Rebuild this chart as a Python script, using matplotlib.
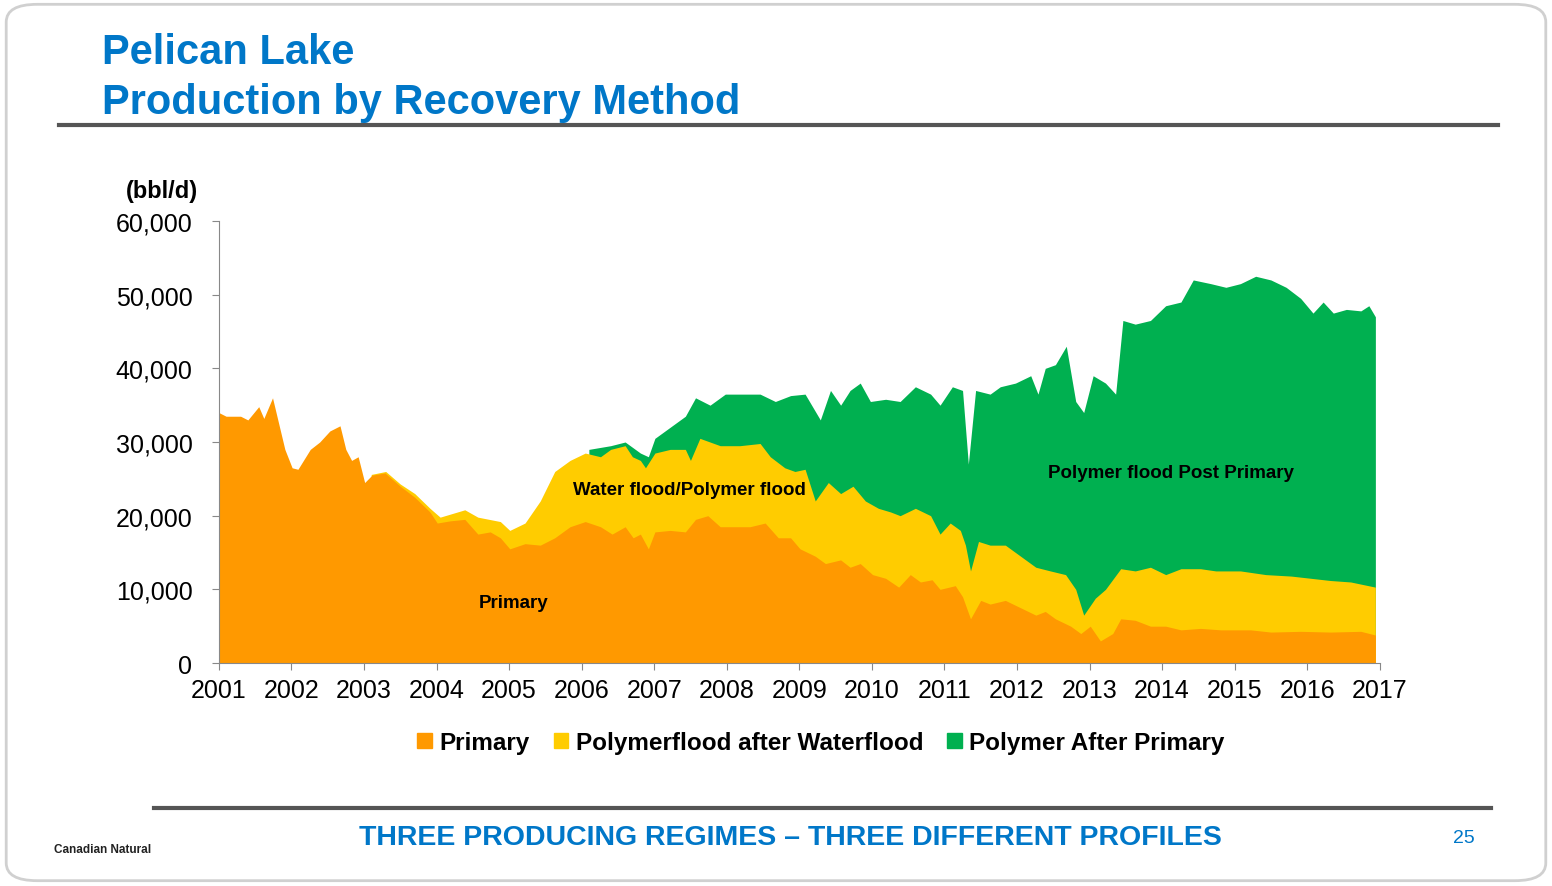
import matplotlib
matplotlib.use("Agg")
import matplotlib.pyplot as plt
from matplotlib.patches import FancyBboxPatch, Rectangle
from matplotlib.lines import Line2D

plt.rcParams['font.family'] = ['Liberation Sans', 'DejaVu Sans']

# Primary (top of orange)
prim_x = [2001.0,2001.1,2001.3,2001.4,2001.55,2001.62,2001.74,2001.91,2002.01,2002.09,2002.26,2002.39,2002.53,2002.67,2002.75,2002.83,2002.92,2003.01,2003.11,2003.29,2003.5,2003.7,2003.91,2004.01,2004.19,2004.39,2004.57,2004.74,2004.88,2005.01,2005.22,2005.43,2005.63,2005.84,2006.05,2006.26,2006.42,2006.6,2006.71,2006.81,2006.92,2007.01,2007.22,2007.43,2007.57,2007.74,2007.91,2008.12,2008.32,2008.53,2008.71,2008.88,2009.01,2009.22,2009.36,2009.57,2009.7,2009.84,2010.01,2010.19,2010.37,2010.53,2010.67,2010.83,2010.94,2011.15,2011.25,2011.36,2011.5,2011.63,2011.84,2012.05,2012.26,2012.39,2012.53,2012.74,2012.88,2013.01,2013.15,2013.32,2013.43,2013.63,2013.84,2014.05,2014.26,2014.53,2014.81,2015.22,2015.5,2015.91,2016.32,2016.74,2016.94]
prim_y = [34000,33500,33500,33000,34800,33200,36000,29000,26500,26300,29000,30000,31500,32200,29000,27500,28000,24500,25500,25800,24000,22500,20500,19000,19300,19500,17500,17800,17000,15500,16200,16000,17000,18500,19200,18500,17500,18500,17000,17500,15500,17800,18000,17800,19500,20000,18500,18500,18500,19000,17000,17000,15500,14500,13500,14000,13000,13500,12000,11500,10300,12000,11000,11300,10000,10500,9000,6000,8500,8000,8500,7500,6500,7000,6000,5000,4000,5000,3000,4000,6000,5800,5000,5000,4500,4700,4500,4500,4200,4300,4200,4300,3800]

# Primary + Polymerflood after Waterflood (top of yellow)
wf_x = [2003.1,2003.3,2003.5,2003.7,2003.91,2004.05,2004.39,2004.57,2004.88,2005.01,2005.22,2005.43,2005.63,2005.84,2006.05,2006.26,2006.4,2006.6,2006.7,2006.81,2006.88,2007.01,2007.22,2007.43,2007.5,2007.63,2007.91,2008.18,2008.46,2008.6,2008.8,2008.94,2009.08,2009.22,2009.4,2009.57,2009.74,2009.91,2010.09,2010.26,2010.39,2010.6,2010.81,2010.94,2011.08,2011.22,2011.29,2011.36,2011.47,2011.63,2011.84,2012.05,2012.26,2012.46,2012.67,2012.81,2012.92,2013.08,2013.22,2013.43,2013.63,2013.84,2014.05,2014.26,2014.53,2014.74,2015.08,2015.43,2015.78,2016.05,2016.32,2016.6,2016.94]
wf_y = [25600,26000,24300,23000,21000,19800,20800,19800,19200,18000,19000,22000,26000,27500,28500,28000,29000,29500,28000,27500,26500,28500,29000,29000,27500,30500,29500,29500,29800,28000,26500,26000,26300,22000,24500,23000,24000,22000,21000,20500,20000,21000,20000,17500,19000,18000,16000,12500,16500,16000,16000,14500,13000,12500,12000,10000,6500,8800,10000,12800,12500,13000,12000,12800,12800,12500,12500,12000,11800,11500,11200,11000,10300]

# Total incl. Polymer After Primary (top of green)
pp_x = [2006.1,2006.4,2006.6,2006.81,2006.92,2007.01,2007.22,2007.43,2007.57,2007.77,2007.98,2008.26,2008.46,2008.67,2008.88,2009.08,2009.29,2009.43,2009.57,2009.7,2009.84,2009.98,2010.19,2010.39,2010.6,2010.81,2010.94,2011.11,2011.25,2011.33,2011.43,2011.63,2011.77,2011.98,2012.19,2012.29,2012.39,2012.53,2012.68,2012.81,2012.92,2013.05,2013.22,2013.36,2013.46,2013.63,2013.84,2014.05,2014.26,2014.43,2014.67,2014.88,2015.08,2015.29,2015.5,2015.71,2015.91,2016.08,2016.22,2016.36,2016.54,2016.74,2016.85,2016.94]
pp_y = [29000,29500,30000,28500,28000,30500,32000,33500,36000,35000,36500,36500,36500,35500,36300,36500,33000,37000,35000,37000,38000,35500,35800,35500,37500,36500,35000,37500,37000,27000,37000,36500,37500,38000,39000,36500,40000,40500,43000,35500,34000,39000,38000,36500,46500,46000,46500,48500,49000,52000,51500,51000,51500,52500,52000,51000,49500,47500,49000,47500,48000,47800,48500,47000]

C_OR, C_YE, C_GR = "#FF9900", "#FFCC00", "#00B050"
BLUE = "#0077C8"

fig = plt.figure(figsize=(15.52, 8.87), dpi=100)
fig.patches.append(FancyBboxPatch((0.004, 0.006), 0.992, 0.988, boxstyle="round,pad=0,rounding_size=0.02",
                                  transform=fig.transFigure, fill=False, ec="#D0D0D0", lw=2))
fig.text(0.066, 0.94, "Pelican Lake", color=BLUE, fontsize=30, fontweight="bold", va="center")
fig.text(0.066, 0.884, "Production by Recovery Method", color=BLUE, fontsize=30, fontweight="bold", va="center")
fig.add_artist(Line2D([0.038, 0.965], [0.858, 0.858], color="#555555", lw=3, transform=fig.transFigure))
fig.add_artist(Line2D([0.099, 0.961], [0.088, 0.088], color="#555555", lw=3, transform=fig.transFigure))
fig.text(0.509, 0.055, "THREE PRODUCING REGIMES – THREE DIFFERENT PROFILES", color=BLUE, fontsize=20.5,
         fontweight="bold", ha="center", va="center")
fig.text(0.943, 0.055, "25", color=BLUE, fontsize=14, ha="center", va="center")
fig.text(0.066, 0.042, "Canadian Natural", color="#222222", fontsize=8.5, fontweight="bold", ha="center", va="center")

ax = fig.add_axes([0.141, 0.2514, 0.748, 0.4983])
ax.fill_between(pp_x, 0, pp_y, color=C_GR, lw=0)
ax.fill_between(wf_x, 0, wf_y, color=C_YE, lw=0)
ax.fill_between(prim_x, 0, prim_y, color=C_OR, lw=0)
ax.set_xlim(2001, 2017)
ax.set_ylim(0, 60000)
ax.set_xticks(range(2001, 2018))
ax.set_yticks(range(0, 60001, 10000))
ax.set_yticklabels([f"{v:,}" for v in range(0, 60001, 10000)])
ax.tick_params(labelsize=18, direction="out", length=5, color="#888888")
ax.tick_params(axis="x", pad=6)
ax.tick_params(axis="y", pad=14)
for s in ["top", "right"]:
    ax.spines[s].set_visible(False)
for s in ["left", "bottom"]:
    ax.spines[s].set_color("#888888")
ax.text(-0.018, 1.07, "(bbl/d)", transform=ax.transAxes, fontsize=17, fontweight="bold", ha="right", va="center")
ax.text(2005.06, 8200, "Primary", fontsize=13.5, fontweight="bold", ha="center", va="center")
ax.text(2007.48, 23500, "Water flood/Polymer flood", fontsize=13.5, fontweight="bold", ha="center", va="center")
ax.text(2014.12, 25800, "Polymer flood Post Primary", fontsize=13.5, fontweight="bold", ha="center", va="center")

handles = [Rectangle((0, 0), 1, 1, color=c) for c in (C_OR, C_YE, C_GR)]
fig.legend(handles, ["Primary", "Polymerflood after Waterflood", "Polymer After Primary"],
           loc="center", bbox_to_anchor=(0.529, 0.162), ncol=3, frameon=False,
           handlelength=0.6, handleheight=0.6, handletextpad=0.3, columnspacing=1.0,
           prop={"weight": "bold", "size": 17.5})
fig.savefig("out.png", dpi=100)
